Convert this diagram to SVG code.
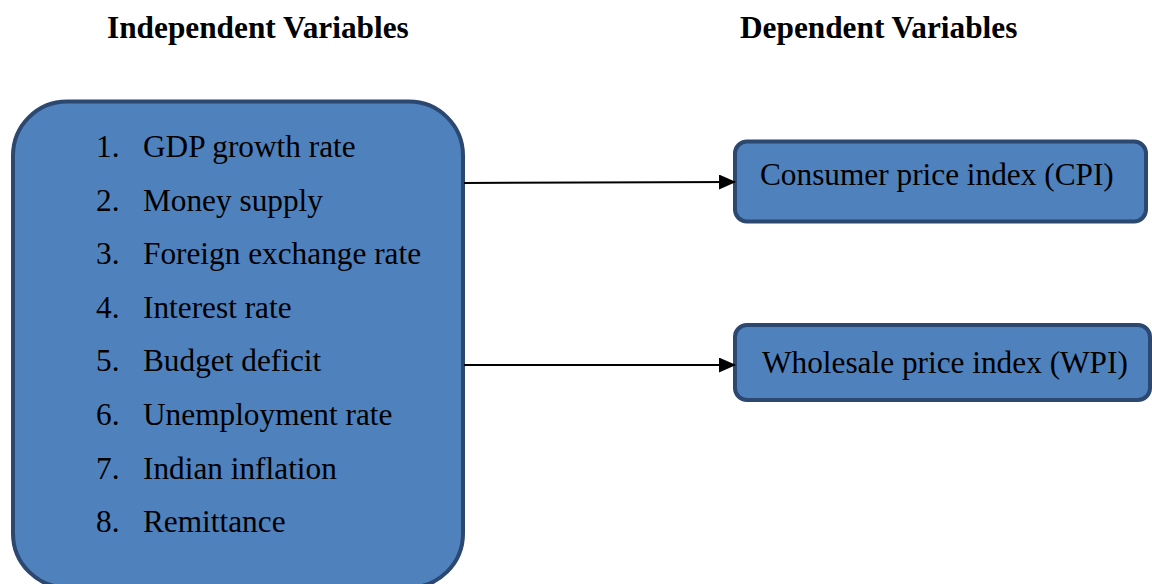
<svg xmlns="http://www.w3.org/2000/svg" width="1152" height="584" viewBox="0 0 1152 584">
<defs>
<style>
.box{fill:#4f81bd;stroke:#2c4770;stroke-width:4}
.t{font-family:"Liberation Serif","Times New Roman",serif;font-size:31.3px;fill:#000}
.h{font-family:"Liberation Serif","Times New Roman",serif;font-size:31.3px;font-weight:bold;fill:#000}
.c{stroke:#000;stroke-width:2;fill:none}
</style>
<marker id="arr" markerWidth="17" markerHeight="15" refX="16" refY="7.5" orient="auto" markerUnits="userSpaceOnUse">
<path d="M0,0 L17,7.5 L0,15 Z" fill="#000"/>
</marker>
</defs>
<rect width="1152" height="584" fill="#fff"/>
<g id="titles">
<text class="h" x="107" y="38">Independent Variables</text>
<text class="h" x="740" y="38">Dependent Variables</text>
</g>
<g id="independent">
<rect class="box" x="13" y="101.5" width="450" height="486" rx="54" ry="54"/>
<text class="t" x="96" y="157">1.</text><text class="t" x="143" y="157">GDP growth rate</text>
<text class="t" x="96" y="210.5">2.</text><text class="t" x="143" y="210.5">Money supply</text>
<text class="t" x="96" y="264">3.</text><text class="t" x="143" y="264">Foreign exchange rate</text>
<text class="t" x="96" y="317.5">4.</text><text class="t" x="143" y="317.5">Interest rate</text>
<text class="t" x="96" y="371">5.</text><text class="t" x="143" y="371">Budget deficit</text>
<text class="t" x="96" y="425">6.</text><text class="t" x="143" y="425">Unemployment rate</text>
<text class="t" x="96" y="478.5">7.</text><text class="t" x="143" y="478.5">Indian inflation</text>
<text class="t" x="96" y="532">8.</text><text class="t" x="143" y="532">Remittance</text>
</g>
<g id="cpi">
<rect class="box" x="735" y="141.5" width="411" height="80" rx="12" ry="12"/>
<text class="t" x="760" y="185">Consumer price index (CPI)</text>
</g>
<g id="wpi">
<rect class="box" x="735" y="325" width="415" height="75" rx="12" ry="12"/>
<text class="t" x="762" y="372.5">Wholesale price index (WPI)</text>
</g>
<g id="connectors">
<line class="c" x1="464" y1="183" x2="735" y2="182" marker-end="url(#arr)"/>
<line class="c" x1="464" y1="365" x2="735" y2="365" marker-end="url(#arr)"/>
</g>
</svg>
